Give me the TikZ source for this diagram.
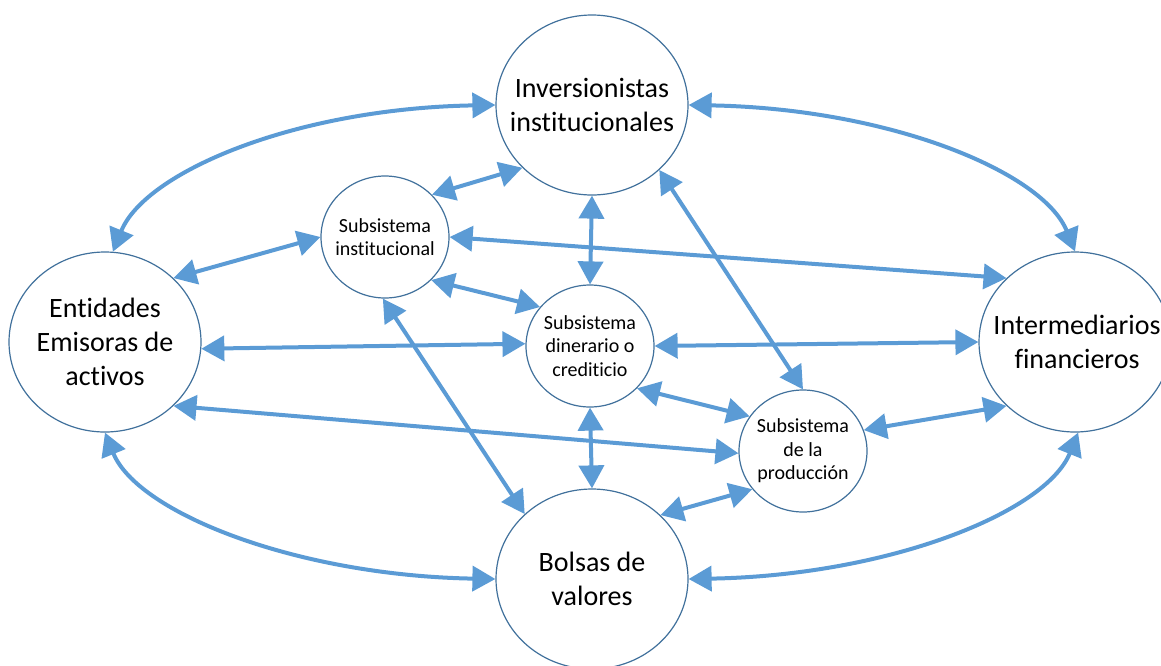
\documentclass[tikz,border=0pt]{standalone}
\usepackage{fontspec}
\setmainfont[Ligatures=NoCommon]{Carlito}
\usetikzlibrary{shapes.geometric,arrows.meta}
\definecolor{linkblue}{HTML}{5B9BD5}
\definecolor{rimblue}{HTML}{41719C}
\begin{document}
\begin{tikzpicture}[x=1pt,y=1pt,
  bigbox/.style={ellipse, draw=rimblue, line width=1.2pt, fill=white,
    minimum width=192pt, minimum height=180pt, inner sep=0pt},
  smallbox/.style={ellipse, draw=rimblue, line width=1.2pt, fill=white,
    minimum width=128pt, minimum height=122pt, inner sep=0pt},
  bigtext/.style={align=center, inner sep=0pt, font=\fontsize{28}{34}\selectfont},
  smalltext/.style={align=center, inner sep=0pt, font=\fontsize{20}{23.5}\selectfont},
  link/.style={draw=linkblue, line width=4pt,
    {Triangle[length=23pt,width=25pt]}-{Triangle[length=23pt,width=25pt]}}
]
\useasboundingbox (0,0) rectangle (1161,-665);

% main actors
\node[bigbox] (inv) at (592,-105) {};
\node[bigtext] (invt) at (inv.center) {Inversionistas\\institucionales};
\node[bigbox] (ent) at (105,-342) {};
\node[bigtext] (entt) at (ent.center) {Entidades\\Emisoras de\\activos};
\node[bigbox] (im) at (1075,-342) {};
\node[bigtext] (imt) at ([xshift=2pt]im.center) {Intermediarios\\financieros};
\node[bigbox] (bol) at (592,-579) {};
\node[bigtext] (bolt) at (bol.center) {Bolsas de\\valores};

% subsystems
\node[smallbox] (si) at (385,-237) {};
\node[smalltext] (sit) at (si.center) {Subsistema\\institucional};
\node[smallbox] (sd) at (590,-346) {};
\node[smalltext] (sdt) at (sd.center) {Subsistema\\dinerario o\\crediticio};
\node[smallbox] (sp) at (803,-451) {};
\node[smalltext] (spt) at (sp.center) {Subsistema\\de la\\producción};

% outer arcs
\draw[link] (ent.85) to[out=68,in=181,out distance=86pt,in distance=200pt] (inv.west);
\draw[link] (inv.east) to[out=-1,in=112,out distance=200pt,in distance=86pt] (im.north);
\draw[link] (ent.south) to[out=-68,in=179,out distance=86pt,in distance=200pt] (bol.west);
\draw[link] (bol.east) to[out=1,in=-112,out distance=200pt,in distance=86pt] (im.272);

% straight links
\draw[link] (si.42) -- (inv.222);
\draw[link] (si.west) -- (ent.43);
\draw[link] (si.east) -- (im.137);
\draw[link] (si.317) -- (sd.142);
\draw[link] (si.268) -- (bol.136);
\draw[link] (inv.south) -- (sd.north);
\draw[link] (inv.316) -- (sp.north);
\draw[link] (ent.356) -- (sd.178);
\draw[link] (sd.east) -- (im.west);
\draw[link] (sd.318) -- (sp.147);
\draw[link] (ent.317) -- (sp.182);
\draw[link] (sp.19) -- (im.223);
\draw[link] (sd.south) -- (bol.north);
\draw[link] (sp.217) -- (bol.43);
\end{tikzpicture}
\end{document}
